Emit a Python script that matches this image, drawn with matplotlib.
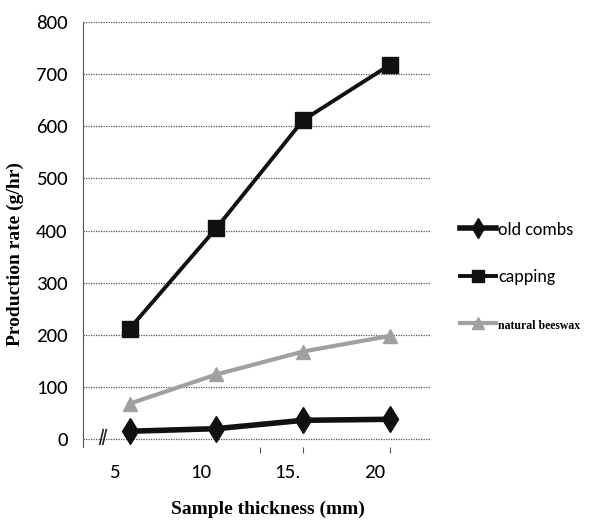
import numpy as np
import matplotlib
matplotlib.use("Agg")
import matplotlib.pyplot as plt
from matplotlib import font_manager as fm

# data
thickness = ["5", "10", "15.", "20"]
old_combs = [15, 20, 36, 38]
capping = [212, 405, 612, 718]
natural_beeswax = [68, 124, 168, 198]

# narrow sans like the Calibri of the original, first one that exists
have = set(f.name for f in fm.fontManager.ttflist)
narrow = "DejaVu Sans"
for name in ["Carlito", "Liberation Sans Narrow", "PT Sans Narrow",
             "Archivo Narrow", "Roboto Condensed", "Open Sans Condensed",
             "Encode Sans Condensed"]:
    if name in have:
        narrow = name
        break
serif = "Liberation Serif"

x = np.arange(1, len(thickness) + 1)

fig = plt.figure(figsize=(5.92, 5.27), dpi=100)
ax = fig.add_axes([0.140, 0.152, 0.586, 0.806])

ax.plot(x, old_combs, color="#111111", lw=4, marker="d", ms=13,
        label="old combs", zorder=3)
ax.plot(x, capping, color="#111111", lw=2.8, marker="s", ms=11.5,
        label="capping", zorder=3)
ax.plot(x, natural_beeswax, color="#a0a0a0", lw=3, marker="^", ms=10,
        label="natural beeswax", zorder=3)

ax.set_xlim(0.46, 4.46)
ax.set_ylim(-15, 800)
ax.set_yticks(range(0, 801, 100))
ax.yaxis.grid(True, linestyle=(0, (1, 1)), color="#555555", lw=0.9)
for s in ["top", "right", "bottom"]:
    ax.spines[s].set_visible(False)
ax.spines["left"].set_linestyle((0, (1, 1)))
ax.spines["left"].set_color("#555555")
ax.tick_params(axis="y", length=0, pad=11)
for lab in ax.get_yticklabels():
    lab.set_fontsize(15)
    lab.set_family(narrow)

# x tick labels sit a bit left of the points in the original
ax.set_xticks(x - 0.18)
ax.set_xticklabels(thickness, fontsize=15, family=narrow)
ax.tick_params(axis="x", length=0, pad=12)
ax.set_xticks([2.5, 3, 4], minor=True)
ax.tick_params(axis="x", which="minor", length=4, color="#555555", width=0.8)

# axis break mark
for dx in (0.0, 0.035):
    ax.plot([0.655 + dx, 0.695 + dx], [-10, 18], color="#222222", lw=1.2,
            clip_on=False)

ax.set_ylabel("Production rate (g/hr)", family=serif,
              fontweight="bold", fontsize=14, va="center")
ax.yaxis.set_label_coords(-0.196, 0.454)
ax.set_xlabel("Sample thickness (mm)", family=serif,
              fontweight="bold", fontsize=14, va="center")
ax.xaxis.set_label_coords(0.533, -0.148)

leg = ax.legend(loc="center left", bbox_to_anchor=(1.065, 0.40), frameon=False,
                borderaxespad=0, handlelength=2.0, handletextpad=0.15,
                labelspacing=1.75, fontsize=13, markerscale=0.8)
for t in leg.get_texts()[:2]:
    t.set_family(narrow)
nat = leg.get_texts()[2]
nat.set_family(serif)
nat.set_fontweight("bold")
nat.set_fontsize(8.5)

fig.savefig("out.png", dpi=100)
